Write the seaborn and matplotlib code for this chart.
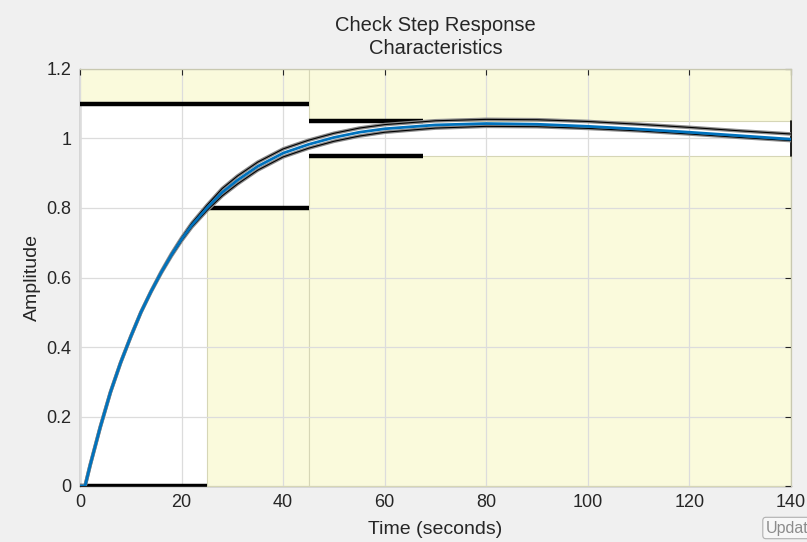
import numpy as np
import pandas as pd
import matplotlib
matplotlib.use("Agg")
import matplotlib.pyplot as plt
import matplotlib.patheffects as pe
import seaborn as sns

# step response readings (time in seconds)
time_s = [0, 1, 2, 4, 6, 8, 10, 12, 14, 16, 18, 20, 22, 25, 28, 31, 35, 40, 45,
          50, 55, 60, 70, 80, 90, 100, 110, 120, 130, 140]
resp_nominal = [0, 0, 0.06, 0.17, 0.27, 0.355, 0.43, 0.50, 0.56, 0.615, 0.665, 0.71,
                0.75, 0.80, 0.845, 0.88, 0.92, 0.958, 0.983, 1.003, 1.018, 1.028,
                1.039, 1.043, 1.041, 1.035, 1.027, 1.018, 1.008, 0.998]
resp_upper = [0, 0, 0.06, 0.17, 0.27, 0.355, 0.43, 0.50, 0.561, 0.617, 0.668, 0.714,
              0.756, 0.808, 0.856, 0.892, 0.932, 0.970, 0.995, 1.015, 1.030, 1.040,
              1.051, 1.055, 1.054, 1.049, 1.041, 1.032, 1.022, 1.013]
resp_lower = [0, 0, 0.06, 0.17, 0.27, 0.355, 0.43, 0.50, 0.559, 0.613, 0.662, 0.706,
              0.745, 0.793, 0.835, 0.869, 0.909, 0.947, 0.972, 0.992, 1.007, 1.018,
              1.030, 1.035, 1.034, 1.029, 1.022, 1.013, 1.003, 0.994]

# step response bounds: (t_start, t_end, value)
upper_bounds = [(0, 45, 1.1), (45, 67.5, 1.05)]
upper_zone = [(0, 45, 1.1), (45, 140, 1.05)]
lower_bounds = [(0, 25, 0.0), (25, 45, 0.8), (45, 67.5, 0.95)]
lower_zone = [(25, 45, 0.8), (45, 140, 0.95)]

x_ticks = [0, 20, 40, 60, 80, 100, 120, 140]
y_ticks = [0, 0.2, 0.4, 0.6, 0.8, 1.0, 1.2]

sns.set_theme(style="white")
plt.rcParams["font.family"] = ["Liberation Sans", "DejaVu Sans"]

fig = plt.figure(figsize=(8.07, 5.42), dpi=100, facecolor="#f0f0f0")
ax = fig.add_axes([80 / 807, 56 / 542, 711 / 807, 417 / 542])
ax.set_facecolor("white")

yellow = "#fafadc"
edge = "#d6d6b6"
for t0, t1, v in upper_zone:
    ax.fill_between([t0, t1], v, 1.2, color=yellow, ec=edge, lw=0.8, zorder=1)
for t0, t1, v in lower_zone:
    ax.fill_between([t0, t1], 0, v, color=yellow, ec=edge, lw=0.8, zorder=1)

for t0, t1, v in upper_bounds + lower_bounds:
    ax.plot([t0, t1], [v, v], color="black", lw=3.2, solid_capstyle="butt", zorder=3)
ax.plot([140, 140], [0.95, 1.05], color="black", lw=1.2, zorder=3, clip_on=False)

df = pd.DataFrame({"t": time_s, "nom": resp_nominal, "up": resp_upper, "lo": resp_lower})
halo = [pe.Stroke(linewidth=2.6, foreground="#8a8a8a"), pe.Normal()]
for col in ["up", "lo"]:
    sns.lineplot(data=df, x="t", y=col, ax=ax, color="black", lw=0.8, zorder=4,
                 path_effects=halo)
sns.lineplot(data=df, x="t", y="nom", ax=ax, color="#0072bd", lw=2.0, zorder=5)

ax.set_xlim(0, 140)
ax.set_ylim(0, 1.2)
ax.set_xticks(x_ticks)
ax.set_yticks(y_ticks)
ax.set_yticklabels(["0", "0.2", "0.4", "0.6", "0.8", "1", "1.2"])
ax.grid(True, color="#dcdcdc", lw=0.9, zorder=1.5)
ax.set_axisbelow("line")
ax.tick_params(direction="in", length=4, width=0.8, color="#262626", labelsize=13,
               labelcolor="#262626", top=True, right=True, pad=6)
for side in ["left", "bottom"]:
    ax.spines[side].set_color("#262626")
    ax.spines[side].set_zorder(0.9)
for side in ["top", "right"]:
    ax.spines[side].set_color("#c8c8b0")
for s in ax.spines.values():
    s.set_linewidth(0.9)

ax.set_xlabel("Time (seconds)", fontsize=14, color="#262626", labelpad=7)
ax.set_ylabel("Amplitude", fontsize=14, color="#262626", labelpad=4)
ax.set_title("Check Step Response\nCharacteristics", fontsize=14.5, color="#262626",
             linespacing=1.25, pad=11)

fig.text(766 / 807, 1 - 528 / 542, "Update", fontsize=11.5, color="#8c8c8c",
         va="center", ha="left",
         bbox=dict(boxstyle="round,pad=0.2", fc="#f7f7f7", ec="#b0b0b0", lw=0.8))

fig.savefig("out.png", dpi=100, facecolor=fig.get_facecolor())
